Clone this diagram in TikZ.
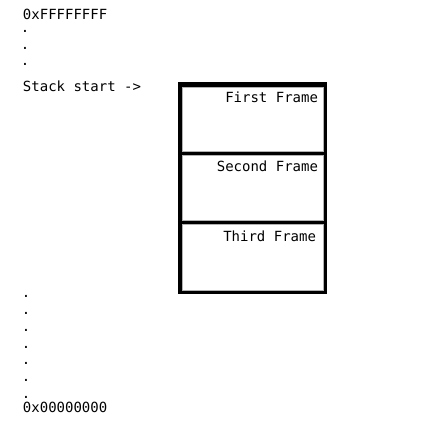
\documentclass[tikz,border=0pt]{standalone}
\usepackage{fontspec}
\setmonofont{DejaVu Sans Mono}
\begin{document}
\begin{tikzpicture}[x=1pt,y=-1pt,
  lbl/.style={inner sep=0pt,outer sep=0pt,font=\ttfamily\fontsize{14}{16}\selectfont},
  dotlbl/.style={lbl,anchor=base,text height=2pt,text depth=0pt},
  framebox/.style={fill=white,draw=gray!60,line width=0.6pt,inner sep=0pt,outer sep=0pt}]
\useasboundingbox (0,0) rectangle (432,432);
% stack frame block
\fill[black] (178,82) rectangle (327,294);
\node[framebox,minimum width=141pt,minimum height=64pt,anchor=north west] (f1) at (182,87) {};
\node[framebox,minimum width=141pt,minimum height=65pt,anchor=north west] (f2) at (182,155) {};
\node[framebox,minimum width=141pt,minimum height=66pt,anchor=north west] (f3) at (182,224) {};
\node[lbl,anchor=base east] (t1) at (318,102) {First Frame};
\node[lbl,anchor=base east] (t2) at (318,171) {Second Frame};
\node[lbl,anchor=base east] (t3) at (316,241) {Third Frame};
% address labels
\node[lbl,anchor=base west] (top) at (23,19) {0xFFFFFFFF};
\node[dotlbl] (d1) at (25,32) {.};
\node[dotlbl] (d2) at (25,49) {.};
\node[dotlbl] (d3) at (25,65) {.};
\node[lbl,anchor=base west] (ss) at (23,91) {Stack start ->};
\node[dotlbl] (e1) at (26,297) {.};
\node[dotlbl] (e2) at (26,314) {.};
\node[dotlbl] (e3) at (26,331) {.};
\node[dotlbl] (e4) at (26,348) {.};
\node[dotlbl] (e5) at (26,364) {.};
\node[dotlbl] (e6) at (26,381) {.};
\node[dotlbl] (e7) at (26,398) {.};
\node[lbl,anchor=base west] (bot) at (23,412) {0x00000000};
\end{tikzpicture}
\end{document}
